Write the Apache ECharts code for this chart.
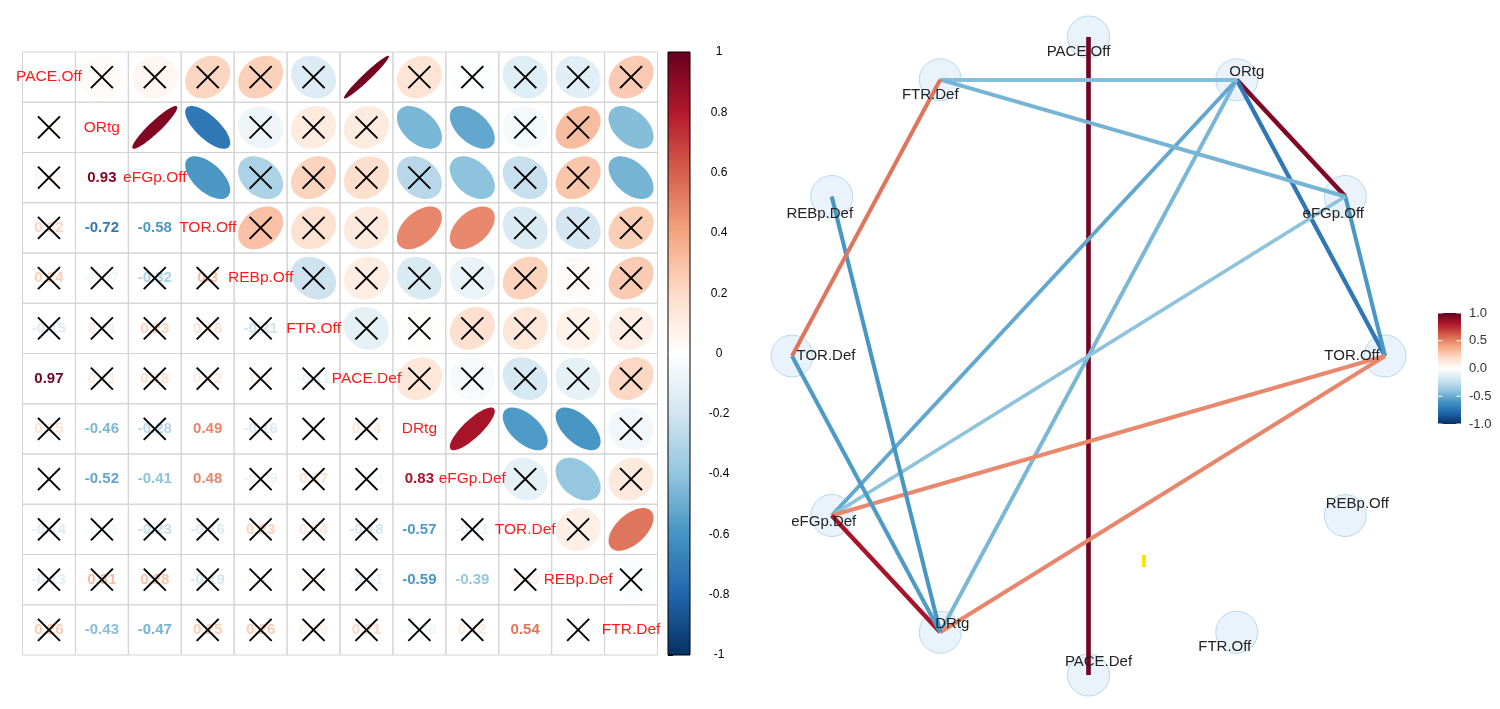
<!DOCTYPE html>
<html><head><meta charset="utf-8">
<script src="https://cdn.jsdelivr.net/npm/echarts@6/dist/echarts.min.js"></script>
<style>html,body{margin:0;padding:0;background:#fff}#c{width:1500px;height:709px}</style>
</head><body><div id="c"></div>
<script>
// ---------------- data ----------------
const variables = ['PACE.Off','ORtg','eFGp.Off','TOR.Off','REBp.Off','FTR.Off','PACE.Def','DRtg','eFGp.Def','TOR.Def','REBp.Def','FTR.Def'];
// lower triangle of the correlation matrix, row i has columns 0..i-1
const corrLower = [
  [],
  [0.02],
  [0.05, 0.93],
  [0.22, -0.72, -0.58],
  [0.24, -0.07, -0.32, 0.30],
  [-0.15, 0.11, 0.23, 0.16, -0.21],
  [0.97, 0.11, 0.18, 0.12, 0.10, -0.11],
  [0.15, -0.46, -0.28, 0.49, -0.16, 0.01, 0.14],
  [-0.01, -0.52, -0.41, 0.48, -0.09, 0.17, -0.04, 0.83],
  [-0.14, -0.05, -0.23, -0.16, 0.23, 0.14, -0.18, -0.57, -0.11],
  [-0.13, 0.31, 0.28, -0.19, 0.02, 0.07, -0.11, -0.59, -0.39, 0.09],
  [0.26, -0.43, -0.47, 0.25, 0.26, 0.09, 0.21, -0.06, 0.12, 0.54, -0.02]
];
// significant pairs [row, col] (no cross drawn)
const sigPairs = [[2,1],[3,1],[3,2],[6,0],[7,1],[7,3],[8,1],[8,2],[8,3],[8,7],[9,7],[10,7],[10,8],[11,1],[11,2],[11,9]];
const edgeThreshold = 0.4;
const legendTicks = [1.0, 0.5, 0.0, -0.5, -1.0];

// ---------------- styles ----------------
const palette = ['#053061','#2166AC','#4393C3','#92C5DE','#D1E5F0','#FFFFFF','#FDDBC7','#F4A582','#D6604D','#B2182B','#67001F'];
const nodeLabelOffsets = [[-10,15],[10,-8],[-12,17],[-33,0],[12,-12],[-12,15],[10,-13],[12,-8],[-8,6],[34,0],[-12,17],[-10,15]];
const FONT = '"Liberation Sans", Arial, sans-serif';

function hex2rgb(h){return [parseInt(h.slice(1,3),16),parseInt(h.slice(3,5),16),parseInt(h.slice(5,7),16)];}
function corrColor(r){
  let t=(r+1)/2*10; if(t<0)t=0; if(t>10)t=10;
  let i=Math.floor(t); if(i>=10)i=9; const f=t-i;
  const a=hex2rgb(palette[i]), b=hex2rgb(palette[i+1]);
  const c=a.map((v,k)=>Math.round(v+(b[k]-v)*f));
  return 'rgb('+c.join(',')+')';
}
const n = variables.length;
const corr = [];
for(let i=0;i<n;i++){corr.push([]);for(let j=0;j<n;j++){
  if(i===j)corr[i][j]=1; else if(i>j)corr[i][j]=corrLower[i][j]; else corr[i][j]=corrLower[j][i];
}}
const sig = variables.map(()=>variables.map(()=>0));
sigPairs.forEach(([a,b])=>{sig[a][b]=1;sig[b][a]=1;});

const cellData=[];
for(let i=0;i<n;i++)for(let j=0;j<n;j++){
  if(i===j)continue;
  cellData.push([j,i,corr[i][j],i>j?0:1,sig[i][j]]);
}
const diagData = variables.map((v,i)=>[i,i]);

function fmt(r){return String(+r.toFixed(2));}

function renderCell(params, api){
  const col=api.value(0), row=api.value(1), r=api.value(2), kind=api.value(3), s=api.value(4);
  const c=api.coord([col,row]); const sz=api.size([1,1]); const w=sz[0], h=sz[1];
  const ch=[];
  ch.push({type:'rect',shape:{x:c[0]-w/2,y:c[1]-h/2,width:w,height:h},style:{fill:'rgba(0,0,0,0)',stroke:'#d3d3d3',lineWidth:1}});
  const color=corrColor(r);
  if(kind===1){
    const d=Math.acos(r), pts=[];
    for(let k=0;k<90;k++){const t=2*Math.PI*k/90;
      pts.push([c[0]+Math.cos(t+d/2)/2*0.85*w, c[1]-Math.cos(t-d/2)/2*0.85*h]);}
    ch.push({type:'polygon',shape:{points:pts},style:{fill:color}});
  } else {
    ch.push({type:'text',style:{text:fmt(r),x:c[0],y:c[1],fill:color,font:'bold 15px '+FONT,textAlign:'center',textVerticalAlign:'middle',align:'center',verticalAlign:'middle'}});
  }
  if(!s){
    const a=11;
    ch.push({type:'line',shape:{x1:c[0]-a,y1:c[1]-a,x2:c[0]+a,y2:c[1]+a},style:{stroke:'#000',lineWidth:2}});
    ch.push({type:'line',shape:{x1:c[0]-a,y1:c[1]+a,x2:c[0]+a,y2:c[1]-a},style:{stroke:'#000',lineWidth:2}});
  }
  return {type:'group',children:ch};
}
function renderDiagBorder(params, api){
  const i=api.value(0); const c=api.coord([i,i]); const sz=api.size([1,1]);
  return {type:'rect',shape:{x:c[0]-sz[0]/2,y:c[1]-sz[1]/2,width:sz[0],height:sz[1]},style:{fill:'rgba(0,0,0,0)',stroke:'#d3d3d3',lineWidth:1}};
}
function renderDiag(params, api){
  const i=api.value(0); const c=api.coord([i,i]);
  return {type:'text',style:{text:variables[i],x:c[0],y:c[1],fill:'#FF1A1A',font:'15.5px '+FONT,textAlign:'center',textVerticalAlign:'middle',align:'center',verticalAlign:'middle'}};
}
function gradStops(){return palette.map((p,k)=>({offset:k/10,color:palette[10-k]}));}
function renderBar(params, api){
  const p1=api.coord([0,1]), p2=api.coord([1,-1]);
  return {type:'rect',shape:{x:p1[0],y:p1[1],width:p2[0]-p1[0],height:p2[1]-p1[1]},
    style:{fill:new echarts.graphic.LinearGradient(0,0,0,1,gradStops()),stroke:'#000',lineWidth:1}};
}
function renderLegendBar(params, api){
  const p1=api.coord([0,1]), p2=api.coord([1,-1]);
  const w=p2[0]-p1[0];
  const ch=[{type:'rect',shape:{x:p1[0],y:p1[1],width:w,height:p2[1]-p1[1]},
    style:{fill:new echarts.graphic.LinearGradient(0,0,0,1,gradStops())}}];
  legendTicks.forEach(v=>{const y=api.coord([0,v])[1];
    ch.push({type:'line',shape:{x1:p1[0],y1:y,x2:p1[0]+w/5,y2:y},style:{stroke:'#fff',lineWidth:1}});
    ch.push({type:'line',shape:{x1:p2[0]-w/5,y1:y,x2:p2[0],y2:y},style:{stroke:'#fff',lineWidth:1}});
  });
  return {type:'group',children:ch};
}

// network
const nodePos = variables.map((v,i)=>{const th=i*Math.PI*2/n; return [Math.sin(th), Math.cos(th)];});
const links=[];
for(let i=0;i<n;i++)for(let j=0;j<i;j++){
  const r=corr[i][j];
  if(sig[i][j] && Math.abs(r)>=edgeThreshold){
    links.push({source:j,target:i,value:r,lineStyle:{color:corrColor(r),width:3.2+1.5*Math.abs(r),opacity:1,curveness:0}});
  }
}
const graphNodes = variables.map((v,i)=>({name:v,value:nodePos[i],
  label:{show:true,position:'inside',offset:nodeLabelOffsets[i],formatter:v,fontSize:15,fontFamily:FONT,color:'#222'}}));

const chart = echarts.init(document.getElementById('c'));
chart.setOption({
  animation:false,
  backgroundColor:'#fff',
  grid:[
    {left:22.5,top:52,width:635,height:603},
    {left:668,top:52,width:22,height:603},
    {left:1438,top:313,width:23,height:111},
    {left:792,top:37,width:593,height:638}
  ],
  xAxis:[
    {gridIndex:0,type:'category',data:variables,show:false},
    {gridIndex:1,type:'value',min:0,max:1,show:false},
    {gridIndex:2,type:'value',min:0,max:1,show:false},
    {gridIndex:3,type:'value',min:-1,max:1,show:false}
  ],
  yAxis:[
    {gridIndex:0,type:'category',data:variables,inverse:true,show:false},
    {gridIndex:1,type:'value',min:-1,max:1,interval:0.2,position:'right',
      axisLine:{show:false},splitLine:{show:false},
      axisTick:{show:true,length:5,lineStyle:{color:'#000'}},
      axisLabel:{align:'center',margin:29,fontSize:12,fontFamily:FONT,color:'#000',formatter:v=>String(+v.toFixed(1))}},
    {gridIndex:2,type:'value',min:-1,max:1,interval:0.5,position:'right',
      axisLine:{show:false},splitLine:{show:false},axisTick:{show:false},
      axisLabel:{align:'left',margin:8,fontSize:13,fontFamily:FONT,color:'#333',formatter:v=>v.toFixed(1)}},
    {gridIndex:3,type:'value',min:-1,max:1,show:false}
  ],
  series:[
    {type:'custom',xAxisIndex:0,yAxisIndex:0,data:diagData,renderItem:renderDiagBorder,silent:true,z:2},
    {type:'custom',xAxisIndex:0,yAxisIndex:0,data:cellData,renderItem:renderCell,silent:true,z:2},
    {type:'custom',xAxisIndex:0,yAxisIndex:0,data:diagData,renderItem:renderDiag,silent:true,z:3},
    {type:'custom',xAxisIndex:1,yAxisIndex:1,data:[[0,0]],renderItem:renderBar,silent:true,z:2},
    {type:'custom',xAxisIndex:2,yAxisIndex:2,data:[[0,0]],renderItem:renderLegendBar,silent:true,z:2},
    {type:'scatter',xAxisIndex:3,yAxisIndex:3,data:nodePos,symbol:'circle',symbolSize:42,silent:true,z:1,
      itemStyle:{color:'#EAF3FC',borderColor:'#B7D9F1',borderWidth:1,opacity:1}},
    {type:'graph',coordinateSystem:'cartesian2d',xAxisIndex:3,yAxisIndex:3,data:graphNodes,links:links,
      symbol:'circle',symbolSize:1,itemStyle:{color:'rgba(0,0,0,0)'},silent:true,z:2,
      lineStyle:{opacity:1},emphasis:{disabled:true}}
  ],
  graphic:[{type:'rect',shape:{x:1142,y:555,width:4,height:12},style:{fill:'#FFE400'},z:10}]
});
</script></body></html>
